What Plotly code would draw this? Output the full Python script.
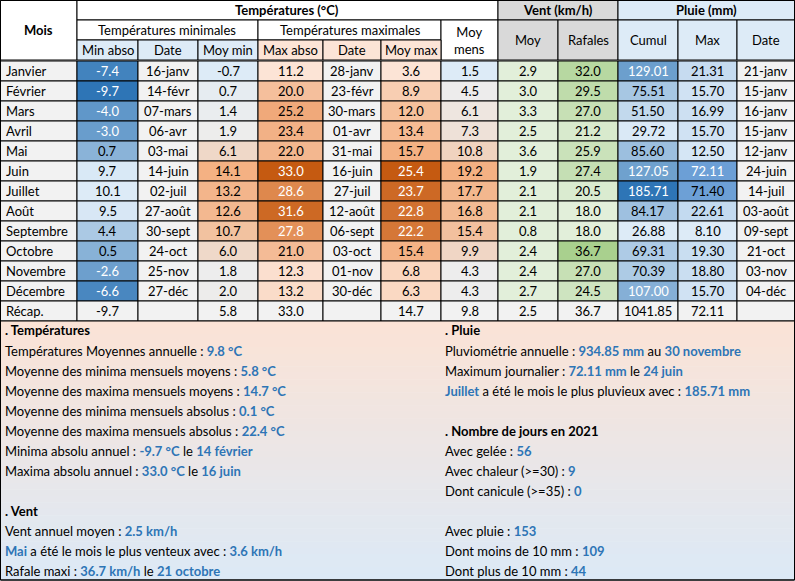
import plotly.graph_objects as go

mois = ["Janvier", "Février", "Mars", "Avril", "Mai", "Juin", "Juillet", "Août",
        "Septembre", "Octobre", "Novembre", "Décembre"]
min_abso = [-7.4, -9.7, -4.0, -3.0, 0.7, 9.7, 10.1, 9.5, 4.4, 0.5, -2.6, -6.6]
min_date = ["16-janv", "14-févr", "07-mars", "06-avr", "03-mai", "14-juin", "02-juil",
            "27-août", "30-sept", "24-oct", "25-nov", "27-déc"]
moy_min = [-0.7, 0.7, 1.4, 1.9, 6.1, 14.1, 13.2, 12.6, 10.7, 6.0, 1.8, 2.0]
max_abso = [11.2, 20.0, 25.2, 23.4, 22.0, 33.0, 28.6, 31.6, 27.8, 21.0, 12.3, 13.2]
max_date = ["28-janv", "23-févr", "30-mars", "01-avr", "31-mai", "16-juin", "27-juil",
            "12-août", "06-sept", "03-oct", "01-nov", "30-déc"]
moy_max = [3.6, 8.9, 12.0, 13.4, 15.7, 25.4, 23.7, 22.8, 22.2, 15.4, 6.8, 6.3]
moy_mens = [1.5, 4.5, 6.1, 7.3, 10.8, 19.2, 17.7, 16.8, 15.4, 9.9, 4.3, 4.3]
vent_moy = [2.9, 3.0, 3.3, 2.5, 3.6, 1.9, 2.1, 2.1, 0.8, 2.4, 2.4, 2.7]
rafales = [32.0, 29.5, 27.0, 21.2, 25.9, 27.4, 20.5, 18.0, 18.0, 36.7, 27.0, 24.5]
cumul = [129.01, 75.51, 51.50, 29.72, 85.60, 127.05, 185.71, 84.17, 26.88, 69.31, 70.39, 107.00]
pluie_max = [21.31, 15.70, 16.99, 15.70, 12.50, 72.11, 71.40, 22.61, 8.10, 19.30, 18.80, 15.70]
pluie_date = ["21-janv", "15-janv", "16-janv", "15-janv", "12-janv", "24-juin", "14-juil",
              "03-août", "09-sept", "21-oct", "03-nov", "04-déc"]
recap = ["Récap.", "-9.7", "", "5.8", "33.0", "", "14.7", "9.8", "2.5", "36.7", "1041.85", "72.11", ""]

texte_gauche = [
    ("<b>. Températures</b>", 330),
    ("Températures Moyennes annuelle : <b>{9.8 °C}</b>", 351),
    ("Moyenne des minima mensuels moyens : <b>{5.8 °C}</b>", 371),
    ("Moyenne des maxima mensuels moyens : <b>{14.7 °C}</b>", 391),
    ("Moyenne des minima mensuels absolus : <b>{0.1 °C}</b>", 411),
    ("Moyenne des maxima mensuels absolus : <b>{22.4 °C}</b>", 431),
    ("Minima absolu annuel : <b>{-9.7 °C}</b> le <b>{14 février}</b>", 451),
    ("Maxima absolu annuel : <b>{33.0 °C}</b> le <b>{16 juin}</b>", 471),
    ("<b>. Vent</b>", 511),
    ("Vent annuel moyen : <b>{2.5 km/h}</b>", 531),
    ("<b>{Mai}</b> a été le mois le plus venteux avec : <b>{3.6 km/h}</b>", 551),
    ("Rafale maxi : <b>{36.7 km/h}</b> le <b>{21 octobre}</b>", 571),
]
texte_droite = [
    ("<b>. Pluie</b>", 330),
    ("Pluviométrie annuelle : <b>{934.85 mm}</b> au <b>{30 novembre}</b>", 351),
    ("Maximum journalier : <b>{72.11 mm}</b> le <b>{24 juin}</b>", 371),
    ("<b>{Juillet}</b> a été le mois le plus pluvieux avec : <b>{185.71 mm}</b>", 391),
    ("<b>. Nombre de jours en 2021</b>", 431),
    ("Avec gelée : <b>{56}</b>", 451),
    ("Avec chaleur (>=30) : <b>{9}</b>", 471),
    ("Dont canicule (>=35) : <b>{0}</b>", 491),
    ("Avec pluie : <b>{153}</b>", 531),
    ("Dont moins de 10 mm : <b>{109}</b>", 551),
    ("Dont plus de 10 mm : <b>{44}</b>", 571),
]

FONT = "Lato"
BLUE_TXT = "#2e75b6"
xs = [0, 77, 138, 198, 258, 323, 381, 441, 498, 558, 618, 678, 737, 795]
ROW0 = 61
RH = 20


def hex2rgb(h):
    return [int(h[i:i + 2], 16) for i in (1, 3, 5)]


def mix(c1, c2, t):
    t = max(0.0, min(1.0, t))
    a, b = hex2rgb(c1), hex2rgb(c2)
    return "rgb(%d,%d,%d)" % tuple(round(a[i] + (b[i] - a[i]) * t) for i in range(3))


def scale3(v, lo, mid, hi, clo, cmid, chi):
    if v <= mid:
        return mix(clo, cmid, (v - lo) / (mid - lo))
    return mix(cmid, chi, (v - mid) / (hi - mid))


fig = go.Figure()
shapes = []
annots = []


def rect(x0, y0, x1, y1, fill, line=True):
    shapes.append(dict(type="rect", x0=x0, y0=y0, x1=x1, y1=y1, fillcolor=fill,
                       line=dict(color="black", width=1) if line else dict(width=0),
                       layer="below"))


def txt(x, y, s, color="black", bold=False, anchor="center", size=13):
    if bold:
        s = "<b>" + s + "</b>"
    annots.append(dict(x=x, y=y, text=s, showarrow=False, xanchor=anchor, yanchor="middle",
                       font=dict(family=FONT, size=size, color=color)))


# en-têtes
rect(0, 0, 77, 60, "white")
txt(38, 30, "Mois", bold=True)
rect(77, 0, 498, 20, "white")
txt(287, 10, "Températures (°C)", bold=True)
rect(77, 20, 258, 40, "white")
txt(167, 30, "Températures minimales")
rect(258, 20, 441, 40, "white")
txt(350, 30, "Températures maximales")
rect(441, 20, 498, 60, "white")
txt(469, 40, "Moy<br>mens")
for i, lab in enumerate(["Min abso", "Date", "Moy min", "Max abso", "Date", "Moy max"]):
    rect(xs[i + 1], 40, xs[i + 2], 60, "#ddebf7" if i < 3 else "#fce4d6")
    txt((xs[i + 1] + xs[i + 2]) / 2, 50, lab)
rect(498, 0, 618, 20, "#d9d9d9")
txt(558, 10, "Vent (km/h)", bold=True)
rect(498, 20, 558, 60, "#d9d9d9")
txt(528, 40, "Moy")
rect(558, 20, 618, 60, "#d9d9d9")
txt(588, 40, "Rafales")
rect(618, 0, 795, 20, "#ddebf7")
txt(706, 10, "Pluie (mm)", bold=True)
for i, lab in enumerate(["Cumul", "Max", "Date"]):
    rect(xs[10 + i], 20, xs[11 + i], 60, "#ddebf7")
    txt((xs[10 + i] + xs[11 + i]) / 2, 40, lab)

GREY = "#f2f2f2"
for r in range(12):
    y0 = ROW0 + r * RH
    y1 = y0 + RH
    ym = (y0 + y1) / 2
    cells = [
        (mois[r], GREY, "black"),
        ("%.1f" % min_abso[r], mix("#2e75b6", "#ddebf7", (min_abso[r] + 9.7) / 19.8),
         "white" if min_abso[r] < -2 else "black"),
        (min_date[r], GREY, "black"),
        ("%.1f" % moy_min[r], scale3(moy_min[r], -0.7, 1.8, 14.1, "#ddebf7", "#ededed", "#f4b183"), "black"),
        ("%.1f" % max_abso[r], scale3(max_abso[r], 11.2, 25.5, 33.0, "#fce4d6", "#f0a878", "#c55a11"),
         "white" if max_abso[r] >= 27 else "black"),
        (max_date[r], GREY, "black"),
        ("%.1f" % moy_max[r], scale3(moy_max[r], 3.6, 15.7, 25.4, "#fce4d6", "#f4b183", "#c55a11"),
         "white" if moy_max[r] >= 20 else "black"),
        ("%.1f" % moy_mens[r], scale3(moy_mens[r], 1.5, 4.3, 19.2, "#ddebf7", "#ededed", "#f4b183"), "black"),
        ("%.1f" % vent_moy[r], "#e2efda", "black"),
        ("%.1f" % rafales[r], mix("#e2efda", "#a9d08e", (rafales[r] - 18) / 18.7), "black"),
        ("%.2f" % cumul[r], mix("#ddebf7", "#2e75b6", (cumul[r] - 26.88) / 158.83),
         "white" if cumul[r] > 100 else "black"),
        ("%.2f" % pluie_max[r], mix("#ddebf7", "#6c9fd6", (pluie_max[r] - 8.1) / 64.0),
         "white" if pluie_max[r] > 72 else "black"),
        (pluie_date[r], GREY, "black"),
    ]
    for c, (s, fill, col) in enumerate(cells):
        rect(xs[c], y0, xs[c + 1], y1, fill)
        if c == 0:
            txt(xs[c] + 4, ym, s, color=col, anchor="left")
        else:
            txt((xs[c] + xs[c + 1]) / 2, ym, s, color=col)

y0 = ROW0 + 12 * RH
for c, s in enumerate(recap):
    rect(xs[c], y0, xs[c + 1], y0 + RH, GREY)
    if c == 0:
        txt(4, y0 + RH / 2, s, anchor="left")
    else:
        txt((xs[c] + xs[c + 1]) / 2, y0 + RH / 2, s)

# panneau de texte, fond en dégradé vertical
ytop, ybot = 321, 580
n = 40
for k in range(n):
    a = ytop + (ybot - ytop) * k / n
    b = ytop + (ybot - ytop) * (k + 1) / n
    rect(0, a, 795, b + 0.5, mix("#fbe3d6", "#dce9f6", k / (n - 1)), line=False)
shapes.append(dict(type="rect", x0=0.5, y0=ytop, x1=794.5, y1=ybot, line=dict(color="black", width=1)))
shapes.append(dict(type="rect", x0=0.5, y0=0.5, x1=794.5, y1=ybot, line=dict(color="black", width=1)))


def colorize(s):
    return s.replace("{", "<span style='color:%s'>" % BLUE_TXT).replace("}", "</span>")


for s, y in texte_gauche:
    txt(3, y, colorize(s), anchor="left")
for s, y in texte_droite:
    txt(443, y, colorize(s), anchor="left")

fig.update_layout(
    width=795, height=581, margin=dict(l=0, r=0, t=0, b=0),
    plot_bgcolor="white", paper_bgcolor="white",
    xaxis=dict(range=[0, 795], visible=False, fixedrange=True),
    yaxis=dict(range=[581, 0], visible=False, fixedrange=True),
    shapes=shapes, annotations=annots, showlegend=False,
)
fig.write_html("out.html", config={"displayModeBar": False},
               post_script="document.body.style.margin='0';document.body.style.overflow='hidden';")
